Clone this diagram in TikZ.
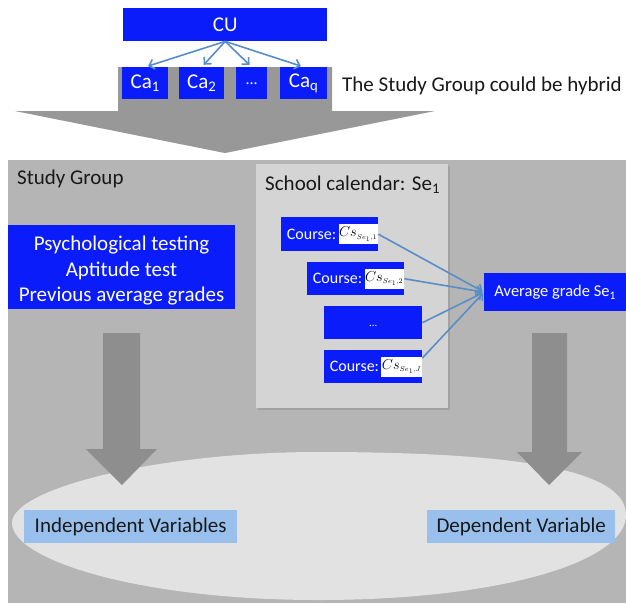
\documentclass[tikz,border=0pt]{standalone}
\usepackage{fontspec}
\setmainfont{Carlito}
\usetikzlibrary{arrows.meta,shadows}
\definecolor{bblue}{RGB}{10,28,250}
\definecolor{lblue}{RGB}{153,192,236}
\definecolor{bggray}{RGB}{181,181,181}
\definecolor{calgray}{RGB}{212,212,212}
\definecolor{ellgray}{RGB}{226,226,226}
\definecolor{arrgray}{RGB}{152,152,152}
\definecolor{darrgray}{RGB}{142,142,142}
\definecolor{connblue}{RGB}{88,142,200}
\definecolor{txtblack}{RGB}{25,25,25}
\newcommand{\bigfs}{\fontsize{21}{25.5}\selectfont}
\newcommand{\midfs}{\fontsize{16.5}{20}\selectfont}
\begin{document}
\begin{tikzpicture}[x=1pt,y=-1pt,
  bluebox/.style={fill=bblue, text=white, inner sep=0pt, anchor=north west, font=\bigfs},
  lbbox/.style={fill=lblue, text=txtblack, inner sep=0pt, anchor=north west, font=\bigfs},
  wbox/.style={fill=white, text=black, inner sep=0.5pt, minimum height=20, minimum width=34, anchor=east, font=\fontsize{14}{14}\selectfont},
  crstxt/.style={text=white, inner sep=0pt, anchor=east, font=\fontsize{16}{20}\selectfont},
  lbl/.style={inner sep=0pt, anchor=base west, text=txtblack, font=\bigfs},
  conn/.style={draw=connblue, line width=1.6pt, -{Straight Barb[length=5pt,width=10pt]}}
]
\useasboundingbox (0,0) rectangle (626,603);
\fill[white] (0,0) rectangle (626,603);

% big top arrow
\fill[arrgray] (118,67) -- (332,67) -- (332,111) -- (435,111) -- (225,153) -- (15,111) -- (118,111) -- cycle;

% study group background
\fill[bggray] (8,160) rectangle (626,603);

% school calendar box
\fill[calgray, drop shadow={opacity=0.35, shadow xshift=2pt, shadow yshift=-2pt}] (256,164) rectangle (448,408);

% ellipse
\fill[ellgray] (12,523) .. controls (12,488) and (160,452) .. (318,452)
  .. controls (520,452) and (626,470) .. (626,515)
  .. controls (626,562) and (500,600) .. (318,600)
  .. controls (140,600) and (12,560) .. (12,523) -- cycle;

% down arrows
\fill[darrgray] (103,333) -- (140,333) -- (140,449) -- (157,449) -- (122,485) -- (86,449) -- (103,449) -- cycle;
\fill[darrgray] (532,333) -- (567,333) -- (567,452) -- (582,452) -- (549,485) -- (517,452) -- (532,452) -- cycle;

% top boxes
\node[bluebox, minimum width=204, minimum height=33] (cu) at (123,8) {CU};
\node[bluebox, minimum width=46, minimum height=32] (ca1) at (122,67) {Ca\textsubscript{1}};
\node[bluebox, minimum width=45, minimum height=32] (ca2) at (179,67) {Ca\textsubscript{2}};
\node[bluebox, minimum width=31, minimum height=32] (cad) at (236,67) {\fontsize{16}{16}\selectfont ...};
\node[bluebox, minimum width=47, minimum height=32] (caq) at (280,67) {Ca\textsubscript{q}};
\node[lbl] (hyb) at (342,91) {The Study Group could be hybrid};

\draw[conn, shorten >=3pt] (cu.south) -- (ca1.north);
\draw[conn, shorten >=3pt] (cu.south) -- (ca2.north);
\draw[conn, shorten >=3pt] (cu.south) -- (cad.north);
\draw[conn, shorten >=3pt] (cu.south) -- (caq.north);

% labels
\node[lbl] (sg) at (17,184) {Study Group};
\node[lbl] (sc) at (265,190) {School calendar: Se\textsubscript{1}};

% left blue box
\node[bluebox, minimum width=227, minimum height=84] (psy) at (8,225) {};
\node[text=white, inner sep=0pt, align=center, font=\bigfs] (psyt) at (121.5,271) {Psychological testing\\Aptitude test\\Previous average grades};

% courses
\node[bluebox, minimum width=97, minimum height=34] (c1) at (281,217) {};
\node[wbox] (w1) at ([xshift=-0.5]c1.east) {$Cs_{\scriptscriptstyle Se_1,1}$};
\node[crstxt] (t1) at ([xshift=-2]w1.west) {Course:};

\node[bluebox, minimum width=97, minimum height=33] (c2) at (307,262) {};
\node[wbox] (w2) at ([xshift=-0.5]c2.east) {$Cs_{\scriptscriptstyle Se_1,2}$};
\node[crstxt] (t2) at ([xshift=-2]w2.west) {Course:};

\node[bluebox, minimum width=98, minimum height=33] (c3) at (324,306) {};
\node[text=white, inner sep=0pt, font=\fontsize{11}{11}\selectfont] (t3) at ([yshift=-3]c3.center) {...};

\node[bluebox, minimum width=98, minimum height=33] (c4) at (324,350) {};
\node[wbox] (w4) at ([xshift=-0.5]c4.east) {$Cs_{\scriptscriptstyle Se_1,J}$};
\node[crstxt] (t4) at ([xshift=-2]w4.west) {Course:};

% average grade
\node[bluebox, minimum width=142, minimum height=38, font=\midfs] (avg) at (484,273) {Average grade Se\textsubscript{1}};

\draw[conn, shorten >=1.5pt] (c1.east) -- (avg.west);
\draw[conn, shorten >=1.5pt] (c2.east) -- (avg.west);
\draw[conn, shorten >=1.5pt] (c3.east) -- (avg.west);
\draw[conn, shorten >=1.5pt] (c4.10) -- (avg.west);

% variables
\node[lbbox, minimum width=213, minimum height=33] (iv) at (24,510) {Independent Variables};
\node[lbbox, minimum width=188, minimum height=33] (dv) at (427,510) {Dependent Variable};
\end{tikzpicture}
\end{document}
